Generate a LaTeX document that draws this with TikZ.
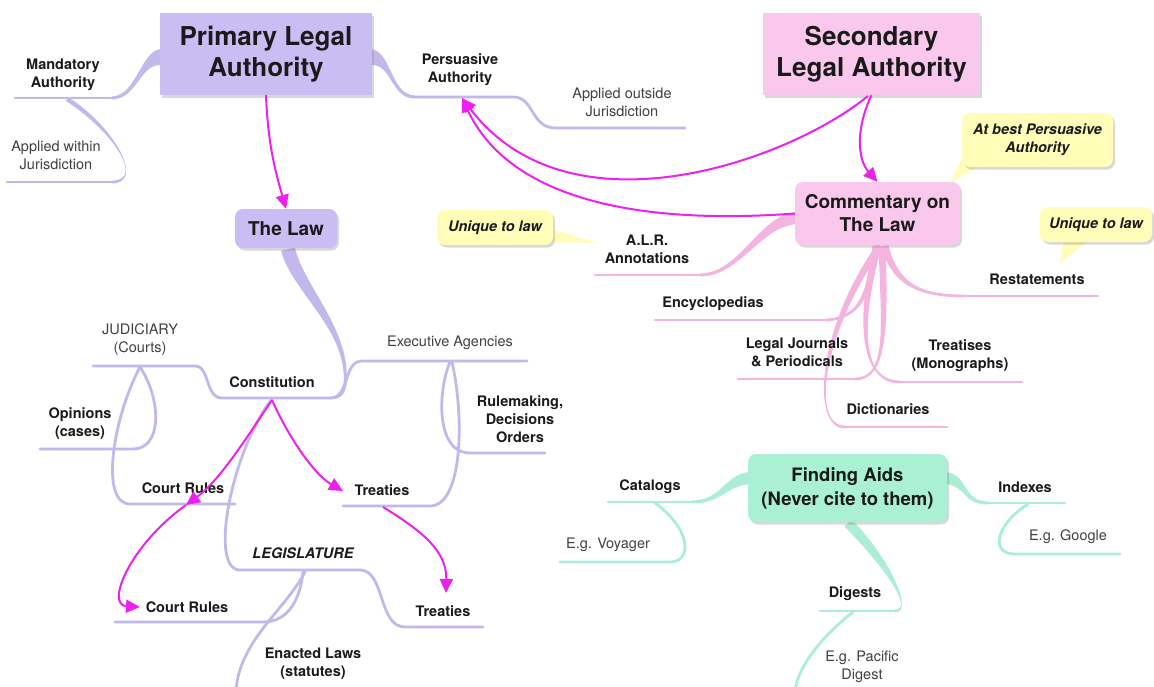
\documentclass[tikz,border=0pt]{standalone}
\usepackage{fontspec}
\setmainfont{TeX Gyre Heros}
\usetikzlibrary{calc,arrows.meta,shadows}
\definecolor{lavbox}{HTML}{C9BDF4}
\definecolor{lavline}{HTML}{C3B8EC}
\definecolor{pinkbox}{HTML}{F9C8EC}
\definecolor{pinkline}{HTML}{F4B4E0}
\definecolor{greenbox}{HTML}{A9F0D5}
\definecolor{greenline}{HTML}{ABEED5}
\definecolor{notey}{HTML}{FFFDB8}
\definecolor{mag}{HTML}{EE20EE}
\definecolor{txtdark}{HTML}{1A1A1A}
\definecolor{txtgray}{HTML}{404040}
\newcommand{\taperbranch}[7]{%
  \coordinate (tA) at (#2);
  \coordinate (tC) at (#3);
  \coordinate (tD) at (#4);
  \coordinate (tB) at (#5);
  \coordinate (tAp) at ($(tA)!#6!90:(tC)$);
  \coordinate (tAm) at ($(tA)!#6!-90:(tC)$);
  \coordinate (tBp) at ($(tB)!#7!-90:(tD)$);
  \coordinate (tBm) at ($(tB)!#7!90:(tD)$);
  \fill[#1] (tAp) .. controls ($(tC)+(tAp)-(tA)$) and ($(tD)+(tBp)-(tB)$) .. (tBp) -- (tBm) .. controls ($(tD)+(tBm)-(tB)$) and ($(tC)+(tAm)-(tA)$) .. (tAm) -- cycle;
}
\tikzset{
  lbl/.style={align=center, inner sep=0pt, text=txtdark, font=\fontsize{14.5}{18}\selectfont\bfseries},
  lblr/.style={align=center, inner sep=0pt, text=txtgray, font=\fontsize{14.5}{18}\selectfont},
  lbli/.style={align=center, inner sep=0pt, text=txtdark, font=\fontsize{14.5}{18}\selectfont\bfseries\itshape},
  shad/.style={drop shadow={opacity=0.3, shadow xshift=2pt, shadow yshift=-2.5pt}},
  bigbox/.style={rectangle, shad, inner sep=0pt, align=center, text=txtdark, font=\fontsize{26}{31}\selectfont\bfseries},
  midbox/.style={rectangle, rounded corners=8pt, shad, inner sep=0pt, align=center, text=txtdark, font=\fontsize{19}{23}\selectfont\bfseries},
  notebox/.style={rectangle, rounded corners=8pt, fill=notey, shad, inner sep=0pt, align=center, text=txtdark, font=\fontsize{14.5}{18}\selectfont\bfseries\itshape},
  marrow/.style={draw=mag, line width=2pt, -{Triangle[length=14pt,width=13pt]}},
  uline/.style={line width=2.8pt, line cap=round},
}
\begin{document}
\begin{tikzpicture}[x=1pt,y=-1pt]
\useasboundingbox (0,0) rectangle (1154,686);
\fill[white] (0,0) rectangle (1154,686);

% ---------- lavender branches ----------
\taperbranch{lavline}{163,57}{140,55}{138,97}{112,98}{8pt}{1.5pt}
\draw[uline,lavline] (112,98) -- (15,98);
\taperbranch{lavline}{67,99}{115,130}{145,182}{112,182}{2.2pt}{1.4pt}
\draw[uline,lavline] (112,182) -- (7,182);
\taperbranch{lavline}{369,57}{392,55}{390,97}{415,97}{8pt}{1.5pt}
\draw[uline,lavline] (415,97) -- (513,97) .. controls (535,97) and (530,128) .. (556,128) -- (685,128);
\taperbranch{lavline}{288,249}{298,290}{350,330}{345,385}{7pt}{1.5pt}
\draw[uline,lavline] (345,385) .. controls (343,396) and (338,398) .. (328,398) -- (222,398) .. controls (205,398) and (210,366) .. (195,366) -- (93,366);
\draw[uline,lavline] (330,398) .. controls (350,398) and (343,361) .. (362,361) -- (527,361);
\draw[uline,lavline] (450,362) .. controls (438,390) and (435,453) .. (470,453) -- (545,453);
\draw[uline,lavline] (452,362) .. controls (465,420) and (462,506) .. (430,506) -- (343,506);
\draw[uline,lavline] (140,367) .. controls (162,400) and (162,449) .. (133,449) -- (40,449);
\draw[uline,lavline] (140,367) .. controls (112,420) and (100,504) .. (130,504) -- (235,504);
\draw[uline,lavline] (272,399) .. controls (232,450) and (208,570) .. (240,570) -- (360,570) .. controls (385,570) and (378,627) .. (405,627) -- (483,627);
\draw[uline,lavline] (303,572) .. controls (300,600) and (288,622) .. (263,622) -- (115,622);
\draw[uline,lavline] (305,572) .. controls (285,610) and (240,640) .. (236,690);

% ---------- pink branches ----------
\taperbranch{pinkline}{797,218}{760,220}{740,275}{700,275}{6pt}{1.5pt}
\draw[uline,pinkline] (700,275) -- (595,275);
\taperbranch{pinkline}{876,246}{870,290}{862,319}{825,320}{3.5pt}{1.4pt}
\draw[uline,pinkline] (825,320) -- (655,320);
\taperbranch{pinkline}{882,246}{885,330}{887,379}{855,379}{3.5pt}{1.4pt}
\draw[uline,pinkline] (855,379) -- (738,379);
\taperbranch{pinkline}{878,246}{858,320}{860,382}{900,382}{3.5pt}{1.4pt}
\draw[uline,pinkline] (900,382) -- (1022,382);
\taperbranch{pinkline}{880,246}{820,330}{810,427}{845,427}{3.5pt}{1.4pt}
\draw[uline,pinkline] (845,427) -- (947,427);
\taperbranch{pinkline}{885,246}{895,285}{920,296}{965,296}{3.5pt}{1.4pt}
\draw[uline,pinkline] (965,296) -- (1098,296);

% ---------- green branches ----------
\taperbranch{greenline}{750,478}{725,480}{722,502}{692,502}{6pt}{1.5pt}
\draw[uline,greenline] (692,502) -- (608,502);
\draw[uline,greenline] (655,503) .. controls (692,530) and (692,562) .. (670,562) -- (560,562);
\taperbranch{greenline}{945,478}{968,480}{962,503}{988,503}{6pt}{1.5pt}
\draw[uline,greenline] (988,503) -- (1065,503);
\draw[uline,greenline] (1028,504) .. controls (995,525) and (990,554) .. (1015,554) -- (1120,554);
\taperbranch{greenline}{848,523}{885,560}{915,611}{895,611}{5pt}{1.5pt}
\draw[uline,greenline] (895,611) -- (820,611);
\draw[uline,greenline] (853,612) .. controls (830,630) and (800,660) .. (795,690);

% ---------- main boxes ----------
\node[bigbox, fill=lavbox, minimum width=212pt, minimum height=82pt] (prim) at (266,54) {Primary Legal\\Authority};
\node[bigbox, fill=pinkbox, minimum width=217pt, minimum height=82pt] (sec) at (871.5,54) {Secondary\\Legal Authority};
\node[midbox, fill=lavbox, minimum width=102pt, minimum height=39pt] (law) at (286,228.5) {The Law};
\node[midbox, fill=pinkbox, minimum width=165pt, minimum height=63pt] (comm) at (877.5,213.5) {Commentary on\\The Law};
\node[midbox, fill=greenbox, minimum width=199pt, minimum height=68pt, font=\fontsize{18.5}{24}\selectfont\bfseries] (find) at (847.5,488) {Finding Aids\\(Never cite to them)};

% ---------- notes ----------
\fill[notey] (966,150) -- (950,183) -- (982,164) -- cycle;
\node[notebox, minimum width=151pt, minimum height=54pt] (nbest) at (1037.5,140) {At best Persuasive\\Authority};
\fill[notey] (548,228) -- (597,243) -- (548,242) -- cycle;
\node[notebox, minimum width=116pt, minimum height=35pt] (nuq1) at (495,227.5) {Unique to law};
\fill[notey] (1064,238) -- (1060,263) -- (1092,238) -- cycle;
\node[notebox, minimum width=112pt, minimum height=35pt] (nuq2) at (1096,224.5) {Unique to law};

% ---------- labels ----------
\node[lbl] (mand) at (63,75) {Mandatory\\Authority};
\node[lblr] (appin) at (56,155) {Applied within\\Jurisdiction};
\node[lbl] (pers) at (460,70) {Persuasive\\Authority};
\node[lblr] (appout) at (622,102) {Applied outside\\Jurisdiction};
\node[lbl] (cons) at (272,382) {Constitution};
\node[lblr] (jud) at (140,340) {JUDICIARY\\(Courts)};
\node[lbl] (opin) at (80,424) {Opinions\\(cases)};
\node[lbl] (cr1t) at (183,488) {Court Rules};
\node[lblr] (exec) at (450,343) {Executive Agencies};
\node[lbl] (rule) at (520,419) {Rulemaking,\\Decisions\\Orders};
\node[lbl] (tr1t) at (382,490) {Treaties};
\node[lbli] (legis) at (303,553) {LEGISLATURE};
\node[lbl] (tr2t) at (443,611) {Treaties};
\node[lbl] (cr2t) at (187,607) {Court Rules};
\node[lbl] (enact) at (313,664) {Enacted Laws\\(statutes)};
\node[lbl] (alr) at (647,249) {A.L.R.\\Annotations};
\node[lbl] (ency) at (713,304) {Encyclopedias};
\node[lbl] (jour) at (797,352) {Legal Journals\\\& Periodicals};
\node[lbl] (dict) at (888,409) {Dictionaries};
\node[lbl] (treat) at (960,356) {Treatises\\(Monographs)};
\node[lbl] (rest) at (1037,279) {Restatements};
\node[lbl] (cat) at (650,487) {Catalogs};
\node[lblr] (voy) at (608,545) {E.g. Voyager};
\node[lbl] (idx) at (1025,487) {Indexes};
\node[lblr] (goog) at (1068,537) {E.g. Google};
\node[lbl] (dig) at (855,594) {Digests};
\node[lblr] (pac) at (862,667) {E.g. Pacific\\Digest};

% ---------- magenta arrows ----------
\coordinate (persu) at (462,98);
\coordinate (consb) at (272,400);
\coordinate (cr1) at (186,505);
\coordinate (tr1) at (343,491);
\coordinate (tr1b) at (383,507);
\draw[marrow] (prim.south) .. controls (268,150) and (278,180) .. (law.north);
\draw[marrow] (sec.south) .. controls (855,130) and (858,160) .. (comm.north);
\draw[marrow] (868,96) .. controls (790,160) and (570,240) .. (persu);
\draw[marrow] (comm.west) .. controls (640,225) and (510,200) .. (persu);
\draw[marrow] (consb) .. controls (245,440) and (220,480) .. (cr1);
\draw[marrow] (cr1) .. controls (130,545) and (105,605) .. (140,607);
\draw[marrow] (consb) .. controls (290,440) and (315,475) .. (tr1);
\draw[marrow] (tr1b) .. controls (420,530) and (447,550) .. (446,593);
\end{tikzpicture}
\end{document}
